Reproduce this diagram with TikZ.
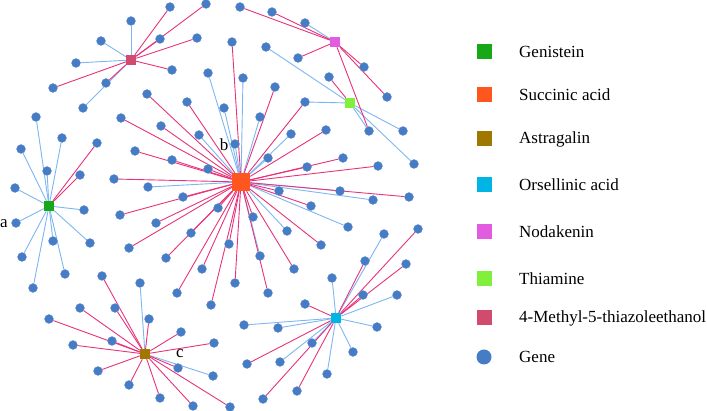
\documentclass[tikz,border=0pt]{standalone}
\usepackage{fontspec}
\setmainfont{Liberation Serif}
\usetikzlibrary{backgrounds}
\definecolor{pk}{RGB}{232,50,122}
\definecolor{bl}{RGB}{125,182,242}
\definecolor{genec}{RGB}{70,123,197}
\definecolor{cG}{RGB}{22,168,22}
\definecolor{cS}{RGB}{255,85,30}
\definecolor{cA}{RGB}{160,120,0}
\definecolor{cO}{RGB}{0,180,228}
\definecolor{cN}{RGB}{225,92,225}
\definecolor{cT}{RGB}{128,240,60}
\definecolor{cM}{RGB}{208,75,110}
\tikzset{
  gene/.style={circle,fill=genec,draw=genec!80!white,line width=0.3pt,minimum size=9pt,inner sep=0pt},
  hub/.style={rectangle,minimum size=10pt,inner sep=0pt},
  pkedge/.style={draw=pk,line width=0.9pt},
  bledge/.style={draw=bl,line width=0.9pt},
  legsq/.style={rectangle,minimum size=15pt,inner sep=0pt},
  legtxt/.style={anchor=west,inner sep=0pt,font=\fontsize{17}{20}\selectfont},
  lbl/.style={inner sep=0pt,font=\fontsize{17}{20}\selectfont}
}
\begin{document}
\begin{tikzpicture}[x=1pt,y=-1pt]
\useasboundingbox (0,0) rectangle (707,411);
% hubs
\node[hub,fill=cG] (G) at (49,206) {};
\node[hub,fill=cS,minimum size=18pt] (S) at (241,182) {};
\node[hub,fill=cA] (A) at (145,354) {};
\node[hub,fill=cO] (O) at (336,318) {};
\node[hub,fill=cN] (N) at (335,42) {};
\node[hub,fill=cT] (T) at (350,103) {};
\node[hub,fill=cM] (M) at (131,60) {};
% genes
\foreach \n/\x/\y in {
1/170/7,2/206/4,3/131/21,4/101/41,5/160/39,6/197/38,7/172/70,8/76/63,9/53/88,10/106/83,11/83/108,
12/240/7,13/272/12,14/305/23,15/298/58,16/364/67,17/387/97,18/369/131,
19/266/47,20/329/77,21/305/102,22/403/131,23/414/164,
24/232/42,25/243/78,26/275/87,27/260/117,28/291/134,29/268/158,30/326/130,31/343/158,32/307/167,33/378/166,
34/235/144,35/208/73,36/147/94,37/187/102,38/224/108,39/121/118,40/161/126,41/199/135,42/135/151,43/172/160,
44/208/169,45/114/179,46/148/187,47/183/197,
48/279/191,49/340/191,50/373/200,51/409/197,52/311/206,53/348/227,54/253/217,55/287/231,56/321/245,57/260/256,
58/294/269,59/235/283,60/268/293,61/229/244,
62/120/215,63/218/208,64/156/223,65/191/233,66/129/248,67/166/258,69/202/269,70/177/293,71/211/305,
72/36/117,73/62/138,74/21/149,75/47/171,76/97/143,77/80/175,78/15/188,79/84/210,80/16/223,81/53/241,
82/90/243,83/22/257,84/65/274,85/33/288,
86/102/276,87/140/283,88/80/308,89/115/308,90/149/319,91/49/319,92/112/341,93/181/332,94/73/345,95/214/343,
96/98/371,97/178/368,98/213/376,99/129/385,100/160/398,101/193/406,102/230/407,
103/384/234,104/418/229,105/365/261,106/406/264,107/332/278,108/363/295,109/397/295,110/305/304,
111/244/325,112/278/328,113/377/327,114/312/343,115/353/352,116/247/364,117/280/362,118/327/374,
119/297/391,120/263/399}
  \node[gene] (g\n) at (\x,\y) {};
\begin{scope}[on background layer]
% blue edges
\foreach \h/\n in {M/3,M/4,M/8,M/11,N/14,T/18,T/19,T/21,T/22,T/23,
S/25,S/27,S/28,S/29,S/34,S/35,S/38,S/41,S/46,S/49,S/50,S/53,S/55,S/57,
G/72,G/73,G/74,G/75,G/78,G/79,G/80,G/81,G/82,G/83,G/84,G/85,
A/87,A/98,O/103,O/107,O/109,O/111,O/112,O/113,O/114,O/115,O/117,O/118}
  \draw[bledge] (\h) -- (g\n);
% pink edges
\foreach \h/\n in {M/1,M/2,M/5,M/6,M/7,M/9,M/10,
N/12,N/13,N/15,N/16,N/17,N/18,T/20,
S/21,S/24,S/26,S/30,S/31,S/32,S/33,S/36,S/37,S/39,S/40,S/42,S/43,S/44,S/45,S/47,S/48,S/51,S/52,S/54,
S/56,S/58,S/59,S/60,S/61,S/62,S/63,S/64,S/65,S/66,S/67,S/69,S/70,S/71,
G/76,G/77,
A/86,A/88,A/89,A/90,A/91,A/92,A/93,A/94,A/95,A/96,A/97,A/99,A/100,A/101,A/102,
O/104,O/105,O/106,O/108,O/110,O/116,O/119,O/120}
  \draw[pkedge] (\h) -- (g\n);
\end{scope}
% labels
\node[lbl,anchor=west] (la) at (0,224) {a};
\node[lbl] (lb) at (224,145) {b};
\node[lbl] (lc) at (180,354) {c};
% legend
\node[legsq,fill=cG] (k1) at (484,52) {};
\node[legsq,fill=cS] (k2) at (484,95) {};
\node[legsq,fill=cA] (k3) at (484,139) {};
\node[legsq,fill=cO] (k4) at (484,185) {};
\node[legsq,fill=cN] (k5) at (484,232) {};
\node[legsq,fill=cT] (k6) at (484,279) {};
\node[legsq,fill=cM] (k7) at (484,318) {};
\node[circle,fill=genec,minimum size=15pt,inner sep=0pt] (k8) at (484,357) {};
\node[legtxt] (t1) at (519,52) {Genistein};
\node[legtxt] (t2) at (519,95) {Succinic acid};
\node[legtxt] (t3) at (519,139) {Astragalin};
\node[legtxt] (t4) at (519,185) {Orsellinic acid};
\node[legtxt] (t5) at (519,232) {Nodakenin};
\node[legtxt] (t6) at (519,279) {Thiamine};
\node[legtxt] (t7) at (519,318) {4-Methyl-5-thiazoleethanol};
\node[legtxt] (t8) at (519,357) {Gene};
\end{tikzpicture}
\end{document}
